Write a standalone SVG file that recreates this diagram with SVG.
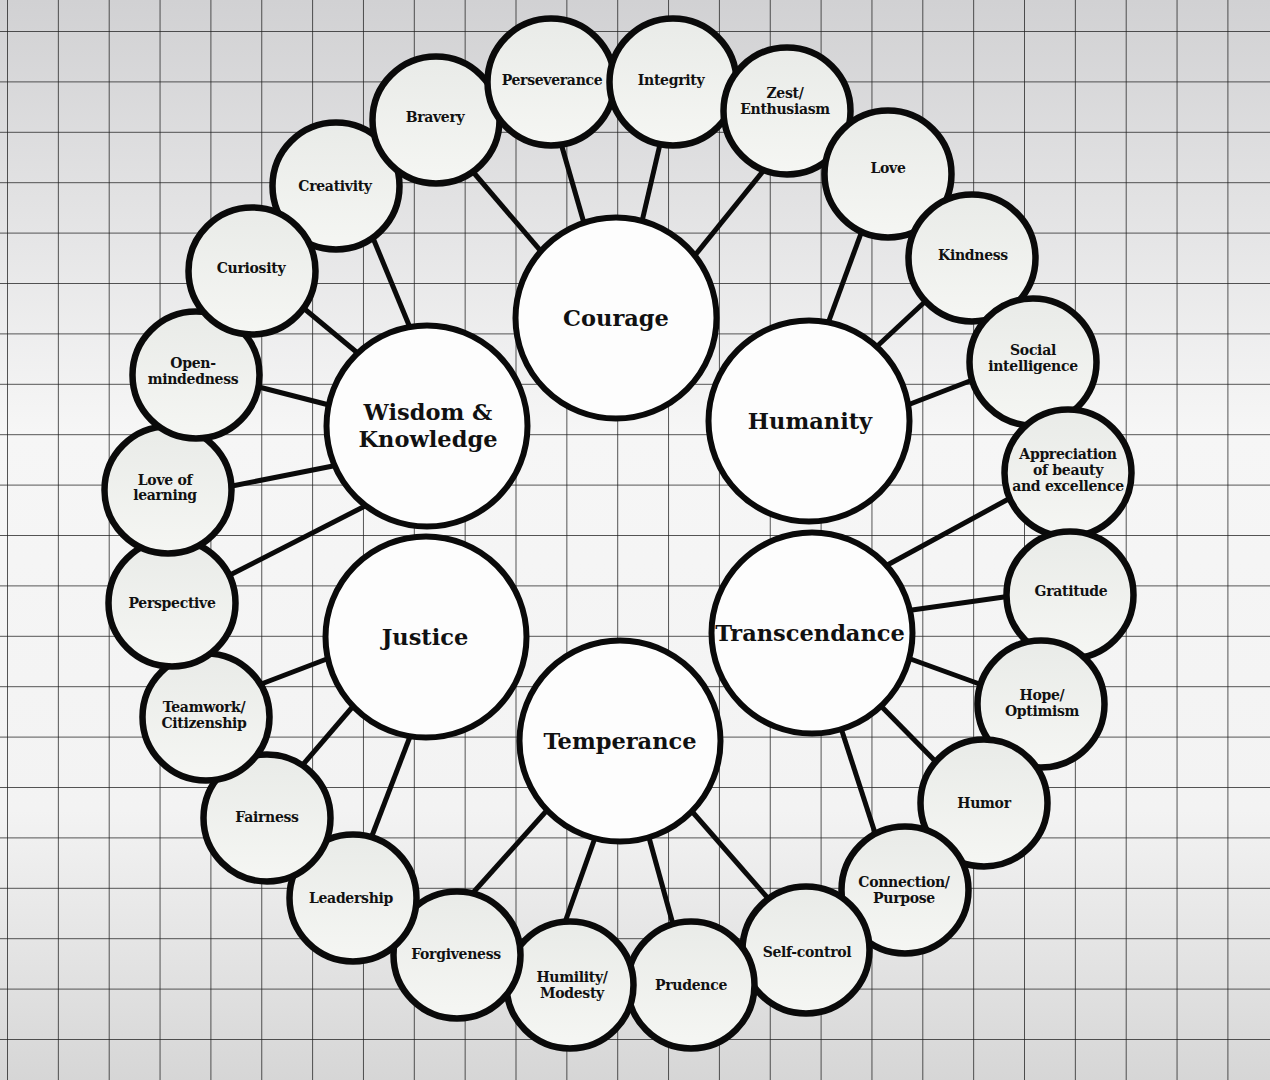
<svg xmlns="http://www.w3.org/2000/svg" width="1270" height="1080" viewBox="0 0 1270 1080">
<defs>
<linearGradient id="bg" x1="0" y1="0" x2="0" y2="1">
<stop offset="0" stop-color="#d1d1d3"/>
<stop offset="0.4" stop-color="#f6f6f6"/>
<stop offset="0.75" stop-color="#f3f3f3"/>
<stop offset="1" stop-color="#d6d6d6"/>
</linearGradient>
<linearGradient id="sf" x1="0" y1="0" x2="0" y2="1">
<stop offset="0" stop-color="#e9ebe8"/>
<stop offset="1" stop-color="#f5f6f3"/>
</linearGradient>
<pattern id="grid" patternUnits="userSpaceOnUse" x="7" y="31" width="50.85" height="50.4">
<path d="M0 0V50.4M0 0H50.85" fill="none" stroke="#1e1e1e" stroke-width="1.5"/>
</pattern>
<style>
.big{fill:#fdfdfd;stroke:#0a0a0a;stroke-width:6}
.sm{fill:url(#sf);stroke:#0a0a0a;stroke-width:6.5}
.ln{stroke:#0a0a0a;stroke-width:5;stroke-linecap:butt}
.t{font-family:"DejaVu Serif","Liberation Serif",serif;font-weight:bold;font-size:14px;letter-spacing:-0.3px;fill:#111;text-anchor:middle}
.T{font-family:"DejaVu Serif","Liberation Serif",serif;font-weight:bold;font-size:22.5px;fill:#111;text-anchor:middle}
</style>
</defs>
<rect width="1270" height="1080" fill="url(#bg)"/>
<rect width="1270" height="1080" fill="url(#grid)"/>
<g id="connectors">
<line class="ln" x1="468" y1="166" x2="545" y2="256"/>
<line class="ln" x1="560" y1="140" x2="586" y2="230"/>
<line class="ln" x1="661" y1="140" x2="640" y2="230"/>
<line class="ln" x1="768" y1="165" x2="692" y2="259"/>
<line class="ln" x1="863" y1="228" x2="827" y2="326"/>
<line class="ln" x1="930" y1="297" x2="872" y2="351"/>
<line class="ln" x1="975" y1="379" x2="905" y2="406"/>
<line class="ln" x1="373" y1="238" x2="411" y2="330"/>
<line class="ln" x1="301" y1="306" x2="360" y2="355"/>
<line class="ln" x1="255" y1="386" x2="333" y2="406"/>
<line class="ln" x1="227" y1="487" x2="338" y2="465"/>
<line class="ln" x1="226" y1="577" x2="369" y2="504"/>
<line class="ln" x1="256" y1="686" x2="332" y2="657"/>
<line class="ln" x1="300" y1="768" x2="355" y2="704"/>
<line class="ln" x1="370" y1="841" x2="411" y2="734"/>
<line class="ln" x1="471" y1="895" x2="549" y2="808"/>
<line class="ln" x1="564" y1="925" x2="596" y2="835"/>
<line class="ln" x1="674" y1="928" x2="648" y2="834"/>
<line class="ln" x1="773" y1="904" x2="689" y2="808"/>
<line class="ln" x1="880" y1="569" x2="1014" y2="496"/>
<line class="ln" x1="905" y1="611" x2="1011" y2="596"/>
<line class="ln" x1="905" y1="657" x2="985" y2="686"/>
<line class="ln" x1="879" y1="704" x2="938" y2="764"/>
<line class="ln" x1="840" y1="725" x2="876" y2="836"/>
</g>
<g id="courage"><circle class="big" cx="616" cy="318" r="100.5"/><text class="T" x="616" y="326">Courage</text></g>
<g id="wisdom"><circle class="big" cx="427" cy="426" r="100.5"/><text class="T" x="428" y="420">Wisdom &amp;</text><text class="T" x="428" y="447">Knowledge</text></g>
<g id="humanity"><circle class="big" cx="809" cy="421" r="100.5"/><text class="T" x="810" y="429">Humanity</text></g>
<g id="justice"><circle class="big" cx="426" cy="637" r="100.5"/><text class="T" x="425" y="645">Justice</text></g>
<g id="temperance"><circle class="big" cx="620" cy="741" r="100.5"/><text class="T" x="620" y="749">Temperance</text></g>
<g id="transcendance"><circle class="big" cx="812" cy="633" r="100.5"/><text class="T" x="810" y="641">Transcendance</text></g>
<g id="creativity"><circle class="sm" cx="336" cy="186" r="63.5"/><text class="t" x="335" y="191">Creativity</text></g>
<g id="bravery"><circle class="sm" cx="436" cy="120" r="63.5"/><text class="t" x="435" y="122">Bravery</text></g>
<g id="perseverance"><circle class="sm" cx="551" cy="82" r="63.5"/><text class="t" x="552" y="85">Perseverance</text></g>
<g id="integrity"><circle class="sm" cx="673" cy="82" r="63.5"/><text class="t" x="671" y="85">Integrity</text></g>
<g id="zest"><circle class="sm" cx="787" cy="111" r="63.5"/><text class="t" x="785" y="98">Zest/</text><text class="t" x="785" y="114">Enthusiasm</text></g>
<g id="love"><circle class="sm" cx="888" cy="174" r="63.5"/><text class="t" x="888" y="173">Love</text></g>
<g id="kindness"><circle class="sm" cx="972" cy="258" r="63.5"/><text class="t" x="973" y="260">Kindness</text></g>
<g id="social"><circle class="sm" cx="1033" cy="362" r="63.5"/><text class="t" x="1033" y="355">Social</text><text class="t" x="1033" y="371">intelligence</text></g>
<g id="appreciation"><circle class="sm" cx="1068" cy="473" r="63.5"/><text class="t" x="1068" y="459">Appreciation</text><text class="t" x="1068" y="475">of beauty</text><text class="t" x="1068" y="491">and excellence</text></g>
<g id="gratitude"><circle class="sm" cx="1070" cy="595" r="63.5"/><text class="t" x="1071" y="596">Gratitude</text></g>
<g id="hope"><circle class="sm" cx="1041" cy="704" r="63.5"/><text class="t" x="1042" y="700">Hope/</text><text class="t" x="1042" y="716">Optimism</text></g>
<g id="humor"><circle class="sm" cx="984" cy="803" r="63.5"/><text class="t" x="984" y="808">Humor</text></g>
<g id="connection"><circle class="sm" cx="905" cy="890" r="63.5"/><text class="t" x="904" y="887">Connection/</text><text class="t" x="904" y="903">Purpose</text></g>
<g id="selfcontrol"><circle class="sm" cx="806" cy="950" r="63.5"/><text class="t" x="807" y="957">Self-control</text></g>
<g id="prudence"><circle class="sm" cx="691" cy="985" r="63.5"/><text class="t" x="691" y="990">Prudence</text></g>
<g id="humility"><circle class="sm" cx="570" cy="985" r="63.5"/><text class="t" x="572" y="982">Humility/</text><text class="t" x="572" y="998">Modesty</text></g>
<g id="forgiveness"><circle class="sm" cx="457" cy="955" r="63.5"/><text class="t" x="456" y="959">Forgiveness</text></g>
<g id="leadership"><circle class="sm" cx="353" cy="898" r="63.5"/><text class="t" x="351" y="903">Leadership</text></g>
<g id="fairness"><circle class="sm" cx="267" cy="818" r="63.5"/><text class="t" x="267" y="822">Fairness</text></g>
<g id="teamwork"><circle class="sm" cx="206" cy="717" r="63.5"/><text class="t" x="204" y="712">Teamwork/</text><text class="t" x="204" y="728">Citizenship</text></g>
<g id="perspective"><circle class="sm" cx="172" cy="603" r="63.5"/><text class="t" x="172" y="608">Perspective</text></g>
<g id="loveoflearning"><circle class="sm" cx="168" cy="490" r="63.5"/><text class="t" x="165" y="485">Love of</text><text class="t" x="165" y="500">learning</text></g>
<g id="openmindedness"><circle class="sm" cx="196" cy="375" r="63.5"/><text class="t" x="193" y="368">Open-</text><text class="t" x="193" y="384">mindedness</text></g>
<g id="curiosity"><circle class="sm" cx="252" cy="271" r="63.5"/><text class="t" x="251" y="273">Curiosity</text></g>
</svg>
